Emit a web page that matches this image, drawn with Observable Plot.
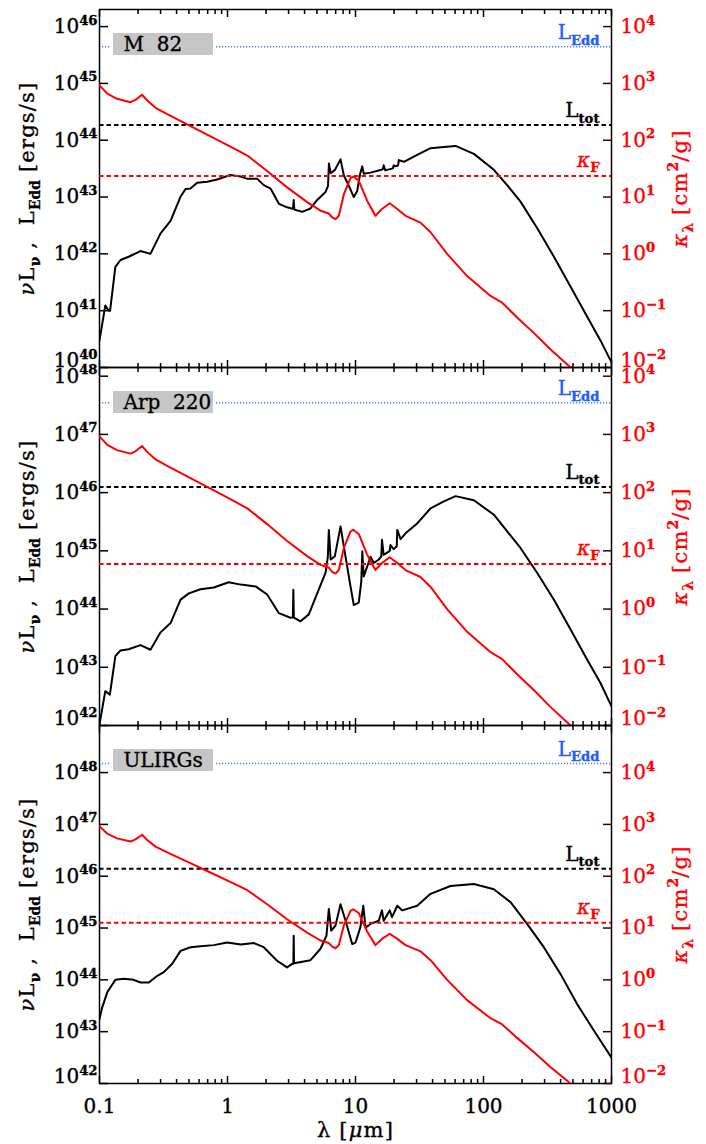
<!DOCTYPE html>
<html><head><meta charset="utf-8">
<script src="https://cdn.jsdelivr.net/npm/d3@7"></script>
<script src="https://cdn.jsdelivr.net/npm/@observablehq/plot@0.6"></script>
<style>
body{margin:0;background:#fff;}
#chart{position:relative;width:706px;height:1144px;overflow:hidden;}
#chart svg{position:absolute;left:0;top:0;}
</style></head><body><div id="chart"></div>
<script>
// ---------- data ----------
const panelNames = ["M  82", "Arp  220", "ULIRGs"];

const lamM82 = [0.1,0.111,0.118,0.121,0.133,0.146,0.169,0.209,0.25,0.30,0.359,0.43,0.47,0.514,0.579,0.693,0.83,1.05,1.27,1.43,1.71,1.92,2.17,2.52,2.92,3.25,3.29,3.33,3.83,4.45,5.02,5.83,6.1,6.2,6.4,6.9,7.64,8.11,8.87,9.7,10.3,10.6,10.9,11.3,11.6,13.1,15.7,16.4,16.6,17.1,19.6,19.9,20.5,21.5,21.8,23.9,30.3,38.6,49.0,60.5,84.1,120.5,153,194.5,263,355,479,646,820,1000];
const lumM82 = [3.0e40,1.23e41,1.0e41,1.0e41,5.9e41,7.8e41,8.9e41,1.12e42,1.0e42,2.29e42,3.8e42,1.02e43,1.38e43,1.41e43,1.78e43,1.86e43,2.04e43,2.45e43,2.29e43,2.09e43,2.09e43,1.62e43,1.41e43,7.6e42,6.6e42,6.2e42,8.9e42,6.0e42,5.5e42,6.3e42,8.9e42,1.23e43,1.58e43,3.9e43,2.63e43,3.0e43,4.6e43,2.4e43,1.58e43,1.0e43,1.26e43,1.86e43,2.63e43,3.47e43,2.57e43,2.69e43,3.0e43,3.1e43,3.63e43,2.95e43,3.2e43,3.63e43,3.47e43,3.6e43,4.47e43,4.17e43,5.5e43,7.24e43,7.6e43,7.94e43,5.75e43,3.02e43,1.62e43,8.3e42,2.82e42,8.9e41,2.63e41,7.8e40,3.0e40,1.23e40];

const lamArp = [0.1,0.111,0.1205,0.133,0.146,0.169,0.209,0.25,0.30,0.359,0.43,0.499,0.615,0.782,1.02,1.27,1.66,2.04,2.52,3.1,3.24,3.27,3.30,3.72,4.32,5.02,5.83,6.08,6.19,6.4,6.9,7.64,8.36,9.14,9.7,10.6,11.1,11.3,11.6,13.1,13.9,15.2,15.9,16.1,16.6,18.5,18.75,19.9,21.0,21.2,22.5,24.6,30.3,38.6,49.0,60.5,84.1,120.5,194.5,263,355,479,646,820,1000];
const lumArp = [1.05e42,3.89e42,3.39e42,1.55e43,1.95e43,2.04e43,2.4e43,2.0e43,3.98e43,5.75e43,1.45e44,1.86e44,2.19e44,2.34e44,2.88e44,2.63e44,2.45e44,1.78e44,8.5e43,7.1e43,7.2e43,2.14e44,7.1e43,6.17e43,8.1e43,1.86e44,4.17e44,7.9e44,2.29e45,7.1e44,8.1e44,2.63e45,7.9e44,2.45e44,1.17e44,1.29e44,3.0e44,9.8e44,3.63e44,7.9e44,6.17e44,7.1e44,8.0e44,1.55e45,8.5e44,1.0e45,1.26e45,1.07e45,1.2e45,2.29e45,1.59e45,2.0e45,2.95e45,5.37e45,7.08e45,8.7e45,7.4e45,4.17e45,1.12e45,4.17e44,1.45e44,4.47e43,1.35e43,5.37e42,2.14e42];

const lamUli = [0.1,0.105,0.115,0.133,0.155,0.185,0.209,0.243,0.283,0.318,0.37,0.43,0.514,0.615,0.782,0.993,1.27,1.61,1.92,2.44,2.92,3.2,3.27,3.29,3.31,4.45,5.33,5.93,6.19,6.46,6.98,7.64,8.36,9.42,10.0,10.9,11.5,12.0,13.1,15.2,16.1,16.6,18.5,19.3,21.2,23.2,30.3,38.6,55.2,84.1,120.5,162.6,219,296,400,540,728,1000];
const lumUli = [1.74e43,2.95e43,5.75e43,1.0e44,1.05e44,1.0e44,8.9e43,8.9e43,1.2e44,1.41e44,2.04e44,3.63e44,4.27e44,4.47e44,4.68e44,5.25e44,4.79e44,5.13e44,4.27e44,2.34e44,1.74e44,2.04e44,2.04e44,7.1e44,2.1e44,2.4e44,3.98e44,7.1e44,2.34e45,8.9e44,1.12e45,2.88e45,1.38e45,4.9e44,5.25e44,1.02e45,2.69e45,1.02e45,1.2e45,1.38e45,2.19e45,1.38e45,2.19e45,1.62e45,2.69e45,2.19e45,2.69e45,4.57e45,6.46e45,7.08e45,5.62e45,3.16e45,1.2e45,4.27e44,1.29e44,3.39e43,1.05e43,3.16e42];

const lamKappa = [0.1,0.115,0.137,0.175,0.191,0.215,0.236,0.274,0.338,0.484,0.693,0.993,1.43,2.04,2.92,4.19,5.33,6.19,6.58,6.98,7.41,8.11,9.14,9.6,10.6,12.3,14.3,16.1,18.5,21.2,24.6,32.2,38.6,52.0,74.5,113.5,140,183,247,333,479,646];
const kappa = [923,661,537,468,513,631,501,372,288,191,126,83.2,53.7,28.8,14.8,8.13,5.75,5.13,4.37,4.07,4.68,11.2,21.5,23,19.5,8.7,4.68,6.17,7.76,6.17,4.68,3.55,2.4,1.0,0.407,0.182,0.138,0.0759,0.0407,0.0209,0.01,0.004];

const lEdd = [4.44e45, 3.5e47, 1.5e48];
const lTot = [1.85e44, 1.25e46, 1.4e46];
const kappaF = [23.5, 5.96, 12.6];
const lumDomains = [[1e40, 2.0e46], [1e42, 1.41e48], [1e42, 8.1e48]];
const kappaDomains = [[1e-2, 2.0e4], [1e-2, 1.41e4], [1e-2, 8.1e4]];
const lumTicks = [[1e40,1e41,1e42,1e43,1e44,1e45,1e46],[1e42,1e43,1e44,1e45,1e46,1e47,1e48],[1e42,1e43,1e44,1e45,1e46,1e47,1e48]];
const kappaTicks = [1e-2,1e-1,1,10,100,1e3,1e4];
const xMajor = [0.1, 1, 10, 100, 1000];
const xMinor = [0.2,0.3,0.4,0.5,0.6,0.7,0.8,0.9,2,3,4,5,6,7,8,9,20,30,40,50,60,70,80,90,200,300,400,500,600,700,800,900];

// ---------- layout ----------
const W = 706, H = 1144, panelTop = [9, 367, 725], panelH = 358, mL = 99, mR = 95;
const RED = "#ff0000", BLUE_LINE = "#4a7cff", BLUE_TEXT = "#1f5cff";
const FONT = "DejaVu Serif";
const series = [[lamM82, lumM82], [lamArp, lumArp], [lamUli, lumUli]];

function pow10(v) {
  const e = Math.round(Math.log10(v));
  return "10^{" + (e < 0 ? "\u2212" + (-e) : e) + "}";
}

function boxMark(index, scales, values, dims) {
  const g = d3.create("svg:g");
  const x0 = dims.marginLeft + 14, y0 = dims.marginTop + 24;
  g.append("rect").attr("x", x0 - 2).attr("y", y0 - 1).attr("width", 104).attr("height", 24).attr("fill", "white");
  g.append("rect").attr("x", x0).attr("y", y0).attr("width", 100).attr("height", 22).attr("fill", "#c6c6c6");
  return g.node();
}

function baseOpts(i) {
  const T = panelTop[i];
  return {
    width: W, height: H, marginTop: T, marginBottom: H - T - panelH, marginLeft: mL, marginRight: mR,
    style: {background: "none", overflow: "visible", fontFamily: FONT, color: "black"}
  };
}

function lumPlot(i) {
  const [lam, lum] = series[i];
  const data = lam.map((x, j) => ({x, y: lum[j]}));
  const ticks = lumTicks[i], bottom = ticks[0];
  return Plot.plot({
    ...baseOpts(i),
    x: {type: "log", domain: [0.1, 1000]},
    y: {type: "log", domain: lumDomains[i]},
    marks: [
      Plot.ruleY([lEdd[i]], {stroke: BLUE_LINE, strokeWidth: 1.5, strokeDasharray: "1.2,1.8"}),
      Plot.ruleY([lTot[i]], {stroke: "black", strokeWidth: 2, strokeDasharray: "4.5,3"}),
      Plot.line(data, {x: "x", y: "y", stroke: "black", strokeWidth: 2, clip: true}),
      boxMark,
      Plot.text([panelNames[i]], {frameAnchor: "top-left", dx: 24, dy: 35, text: d => d, textAnchor: "start", lineAnchor: "middle", fontSize: 20, fill: "black"}),
      Plot.text([lEdd[i]], {y: d => d, text: () => "L_{Edd}", frameAnchor: "right", dx: -12, dy: -14, textAnchor: "end", lineAnchor: "middle", fill: BLUE_TEXT, fontSize: 20}),
      Plot.text([lTot[i]], {y: d => d, text: () => "L_{tot}", frameAnchor: "right", dx: -12, dy: -14.5, textAnchor: "end", lineAnchor: "middle", fill: "black", fontSize: 20}),
      Plot.axisX({anchor: "bottom", ticks: xMajor, tickSize: -7, strokeWidth: 1.5, fill: i === 2 ? "black" : "none", tickPadding: 22, tickFormat: d => String(d), fontSize: 20, label: null}),
      Plot.axisX({anchor: "bottom", ticks: xMinor, tickSize: -4, strokeWidth: 1.5, fill: "none", label: null}),
      Plot.axisX({anchor: "top", ticks: xMajor, tickSize: -7, strokeWidth: 1.5, fill: "none", label: null}),
      Plot.axisX({anchor: "top", ticks: xMinor, tickSize: -4, strokeWidth: 1.5, fill: "none", label: null}),
      Plot.axisY({anchor: "left", ticks, tickSize: -9, tickPadding: 11, strokeWidth: 1.5, tickFormat: d => d === bottom ? "" : pow10(d), fontSize: 20, label: null}),
      Plot.axisY({anchor: "left", ticks: [bottom], tickSize: 0, tickPadding: 2, dy: -7, tickFormat: pow10, fontSize: 20, label: null}),
      Plot.frame({stroke: "black", strokeWidth: 1.5}),
      Plot.text(["~{ν}L_{ν} ,  L_{Edd} [ergs/s]"], {frameAnchor: "left", dx: -72, rotate: -90, text: d => d, textAnchor: "middle", lineAnchor: "middle", fontSize: 21, fill: "black"}),
      i === 2 ? Plot.text(["λ [~{μ}m]"], {frameAnchor: "bottom", dy: 47, text: d => d, textAnchor: "middle", lineAnchor: "middle", fontSize: 21, fill: "black"}) : null
    ]
  });
}

function kappaPlot(i) {
  const data = lamKappa.map((x, j) => ({x, y: kappa[j]}));
  return Plot.plot({
    ...baseOpts(i),
    x: {type: "log", domain: [0.1, 1000], axis: null},
    y: {type: "log", domain: kappaDomains[i]},
    marks: [
      Plot.ruleY([kappaF[i]], {stroke: RED, strokeWidth: 2, strokeDasharray: "4.5,3"}),
      Plot.line(data, {x: "x", y: "y", stroke: RED, strokeWidth: 2, clip: true}),
      Plot.text([kappaF[i]], {y: d => d, text: () => "~{κ}_{F}", frameAnchor: "right", dx: -12, dy: -15.5, textAnchor: "end", lineAnchor: "middle", fill: RED, fontSize: 20}),
      Plot.axisY({anchor: "right", ticks: kappaTicks, tickSize: -9, tickPadding: 18, stroke: "#3a0000", strokeWidth: 1.5, fill: RED, tickFormat: d => d === 0.01 ? "" : pow10(d), fontSize: 20, label: null}),
      Plot.axisY({anchor: "right", ticks: [0.01], tickSize: 0, tickPadding: 9, dy: -7, fill: RED, tickFormat: pow10, fontSize: 20, label: null}),
      Plot.text(["~{κ}_{λ} [cm^{2}/g]"], {frameAnchor: "right", dx: 69, rotate: -90, text: d => d, textAnchor: "middle", lineAnchor: "middle", fontSize: 21, fill: RED})
    ]
  });
}

// rich text: ^{sup}, _{sub}, ~{italic}
const NS = "http://www.w3.org/2000/svg";
function richText(svg) {
  svg.querySelectorAll("text").forEach(el => {
    const cs = getComputedStyle(el);
    // slightly heavier strokes, like the reference's vector font
    el.style.stroke = cs.fill;
    el.style.strokeWidth = "0.35px";
    const s = el.textContent;
    if (!/[_^~]\{/.test(s)) return;
    const fs = parseFloat(cs.fontSize) || 20;
    if (s.includes("[")) el.style.letterSpacing = "1.2px";
    el.textContent = "";
    let cur = 0, last = 0, m;
    const re = /([_^~])\{([^}]*)\}/g;
    const push = (str, kind) => {
      if (!str) return;
      const t = document.createElementNS(NS, "tspan");
      t.textContent = str;
      let target = 0;
      if (kind === "^" || kind === "_") {
        target = kind === "^" ? -0.42 * fs : 0.28 * fs;
        t.style.fontSize = (0.66 * fs).toFixed(1) + "px";
        t.style.fontWeight = "bold";
        t.style.letterSpacing = "0px";
      } else if (kind === "~") {
        t.style.fontStyle = "italic";
      }
      if (target !== cur) t.setAttribute("dy", (target - cur).toFixed(2));
      cur = target;
      el.appendChild(t);
    };
    while ((m = re.exec(s))) { push(s.slice(last, m.index), ""); push(m[2], m[1]); last = re.lastIndex; }
    push(s.slice(last), "");
  });
}

const chart = document.getElementById("chart");
for (let i = 0; i < 3; i++) {
  for (const svg of [lumPlot(i), kappaPlot(i)]) {
    chart.appendChild(svg);
    richText(svg);
  }
}
</script></body></html>
